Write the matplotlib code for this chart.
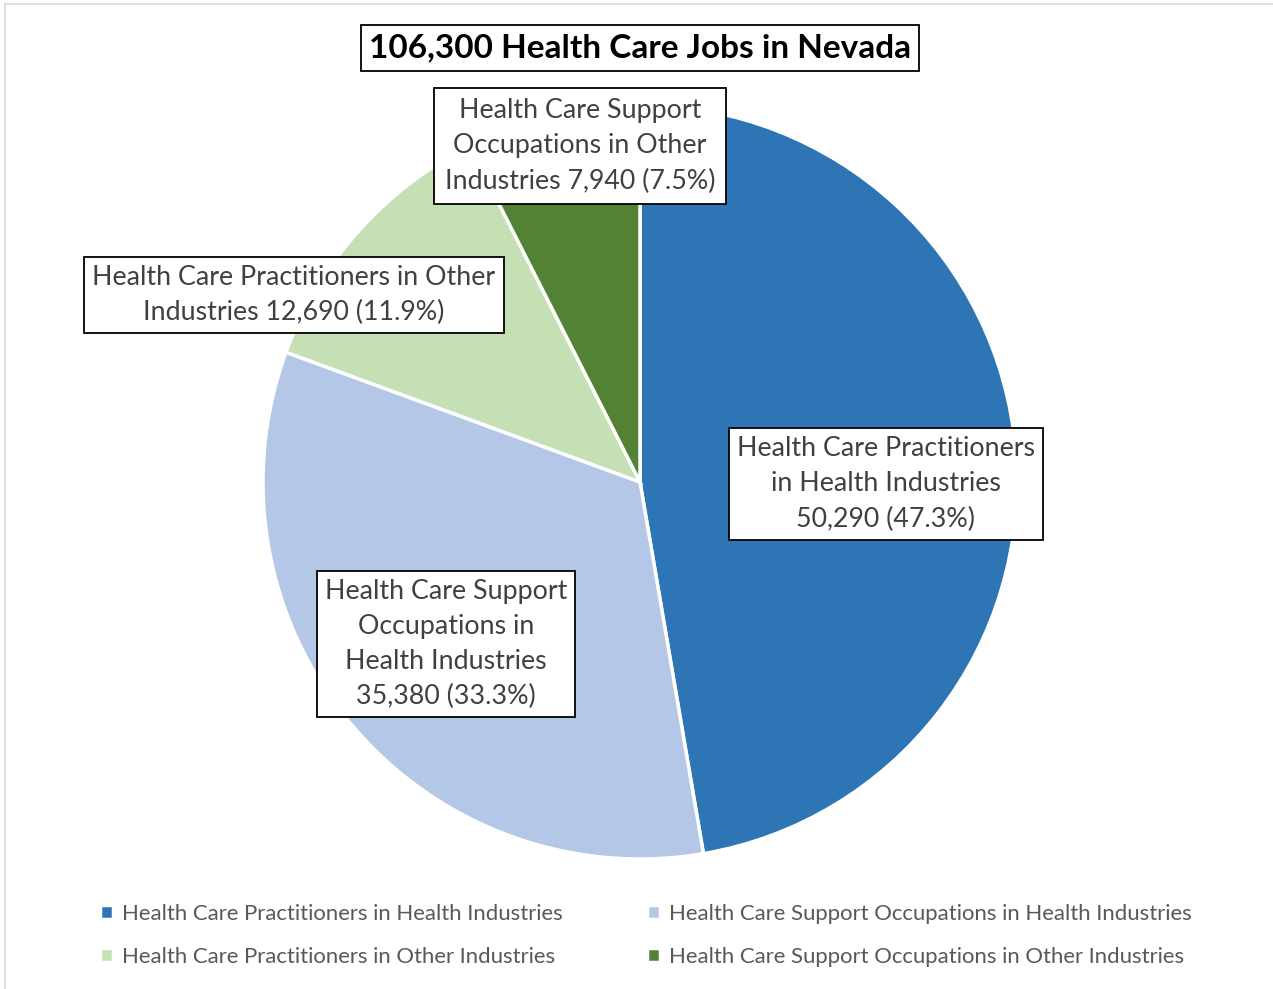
import matplotlib.pyplot as plt
from matplotlib.lines import Line2D

categories = ["Health Care Practitioners in Health Industries",
              "Health Care Support Occupations in Health Industries",
              "Health Care Practitioners in Other Industries",
              "Health Care Support Occupations in Other Industries"]
jobs = [50290, 35380, 12690, 7940]
shares = [47.3, 33.3, 11.9, 7.5]
colors = ['#2E75B6', '#B4C7E7', '#C5E0B4', '#548235']
label_lines = ["Health Care Practitioners\nin Health Industries\n{} ({}%)",
               "Health Care Support\nOccupations in\nHealth Industries\n{} ({}%)",
               "Health Care Practitioners in Other\nIndustries {} ({}%)",
               "Health Care Support\nOccupations in Other\nIndustries {} ({}%)"]
title = "106,300 Health Care Jobs in Nevada"

plt.rcParams['font.family'] = ['Lato', 'DejaVu Sans']

W, H = 1273, 989
fig = plt.figure(figsize=(W / 100, H / 100), dpi=100)

# light frame on the left and top
fig.add_artist(Line2D([5 / W, 5 / W], [0, 1 - 4 / H], color='#d9d9d9', lw=1.2,
                      transform=fig.transFigure))
fig.add_artist(Line2D([5 / W, 1], [1 - 4 / H, 1 - 4 / H], color='#d9d9d9', lw=1.2,
                      transform=fig.transFigure))

cx, cy, r = 640, 482, 377
ax = fig.add_axes([(cx - r) / W, (H - cy - r) / H, 2 * r / W, 2 * r / H])
wedges, _ = ax.pie(jobs, colors=colors, startangle=90, counterclock=False,
                   wedgeprops=dict(edgecolor='white', linewidth=2.5))
ax.set_xlim(-1, 1)
ax.set_ylim(-1, 1)
ax.set_aspect('equal')

# data labels (centre of each box in pixels)
label_pos = [(886, 484), (446, 644), (294, 295), (580, 146)]
pads = [0.3, 0.3, 0.3, 0.4]
for (px, py), fmt, n, s, pd in zip(label_pos, label_lines, jobs, shares, pads):
    fig.text(px / W, 1 - py / H, fmt.format(f"{n:,}", s), ha='center', va='center',
             fontsize=19.3, color='#404040', linespacing=1.5,
             bbox=dict(boxstyle=f'square,pad={pd}', fc='white', ec='black', lw=1.3))

fig.text(640 / W, 1 - 48 / H, title, ha='center', va='center', fontsize=24,
         fontweight='bold', color='black',
         bbox=dict(boxstyle='square,pad=0.25', fc='white', ec='black', lw=1.3))

# legend filled row by row like the original
order = [0, 2, 1, 3]
fig.legend([wedges[i] for i in order], [categories[i] for i in order], ncol=2,
           loc='upper left', bbox_to_anchor=(89 / W, 1 - 893 / H), frameon=False,
           fontsize=15.9, labelcolor='#595959', handlelength=0.6,
           handleheight=0.6, handletextpad=0.4, columnspacing=3.8,
           labelspacing=1.05, borderpad=0)

fig.savefig('out.png', dpi=100)
